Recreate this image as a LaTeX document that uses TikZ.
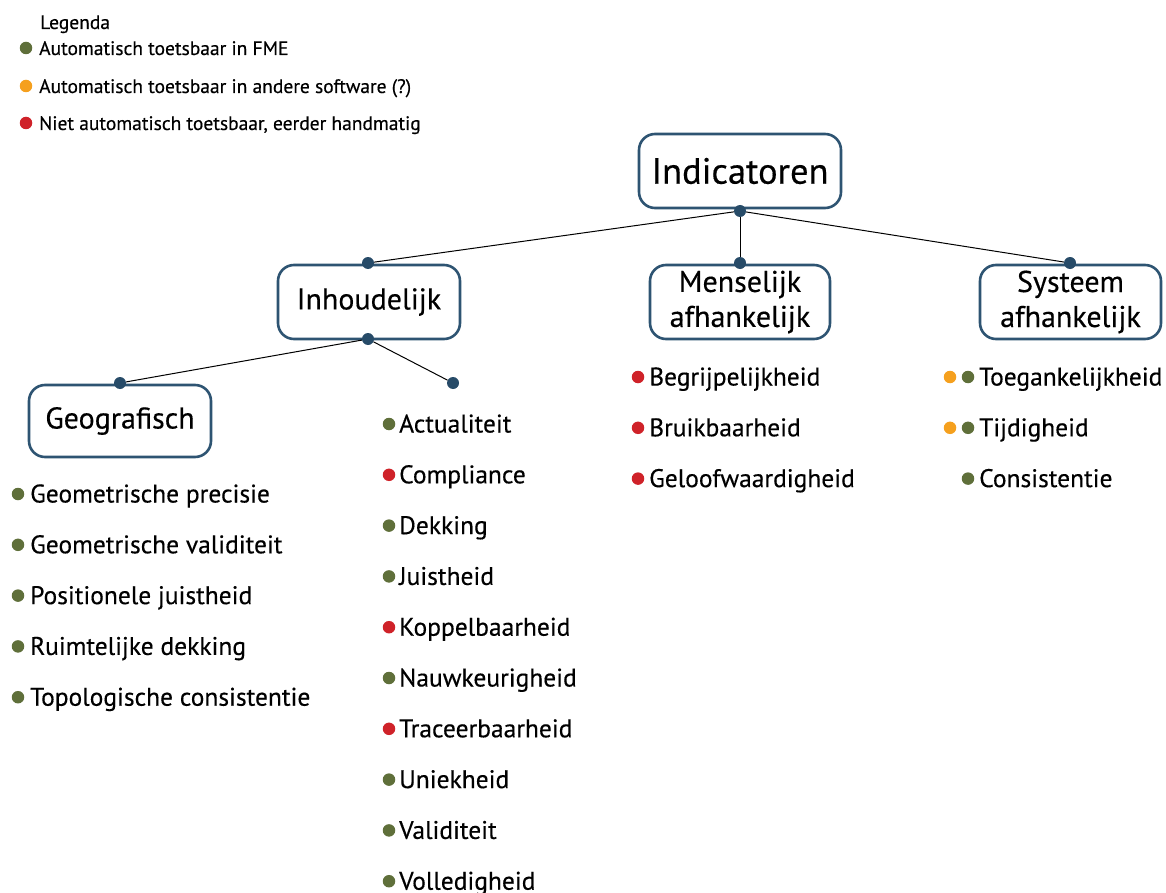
\documentclass[tikz,border=0pt]{standalone}
\usepackage{fontspec}
\setmainfont{PT Sans}[FakeBold=0.35]
\definecolor{boxblue}{HTML}{2E5472}
\definecolor{dotblue}{HTML}{274B68}
\definecolor{okgreen}{HTML}{5F6F3A}
\definecolor{midorange}{HTML}{F5A01E}
\definecolor{badred}{HTML}{CF2229}
\begin{document}
\begin{tikzpicture}[x=1pt,y=-1pt,
  catbox/.style={draw=boxblue, line width=2.6pt, rounded corners=16pt, fill=white,
    minimum height=74pt, align=center, inner sep=0pt,
    font=\fontsize{30}{35}\selectfont},
  joint/.style={circle, fill=dotblue, inner sep=0pt, minimum size=12pt},
  link/.style={line width=1pt, black},
  itemtext/.style={anchor=base west, inner sep=0pt, font=\fontsize{25.5}{28}\selectfont},
  legtext/.style={anchor=base west, inner sep=0pt, font=\fontsize{19.5}{22}\selectfont},
  bullet/.style={circle, inner sep=0pt, minimum size=12.5pt, fill=#1},
]
\useasboundingbox (0,0) rectangle (1166,893);

% legend
\node[legtext] (legtitle) at (40,29) {Legenda};
\node[bullet=okgreen] (lg1) at (26,48) {};
\node[legtext] (lt1) at (39,55) {Automatisch toetsbaar in FME};
\node[bullet=midorange] (lg2) at (26,86) {};
\node[legtext] (lt2) at (39,93) {Automatisch toetsbaar in andere software (?)};
\node[bullet=badred] (lg3) at (26,123) {};
\node[legtext] (lt3) at (39,130) {Niet automatisch toetsbaar, eerder handmatig};

% category boxes
\node[catbox, minimum width=202pt, font=\fontsize{36.5}{40}\selectfont] (ind) at (740,171) {Indicatoren};
\node[catbox, minimum width=182pt] (inh) at (369,302) {Inhoudelijk};
\node[catbox, minimum width=180pt] (mens) at (740,302) {Menselijk\\afhankelijk};
\node[catbox, minimum width=181pt] (sys) at (1070.5,302) {Systeem\\afhankelijk};
\node[catbox, minimum width=182pt, minimum height=72pt] (geo) at (120,421) {Geografisch};

% junction dots
\node[joint] (jind) at (740,211) {};
\node[joint] (jinht) at (368,263) {};
\node[joint] (jinhb) at (368,339) {};
\node[joint] (jmens) at (740,263) {};
\node[joint] (jsys) at (1070,263) {};
\node[joint] (jgeo) at (120,383) {};
\node[joint] (jrest) at (453,383) {};

% connectors
\draw[link] (jind) -- (jinht);
\draw[link] (jind) -- (jmens);
\draw[link] (jind) -- (jsys);
\draw[link] (jinhb) -- (jgeo);
\draw[link] (jinhb) -- (jrest);

% Geografisch indicators
\foreach \t [count=\i from 0] in {Geometrische precisie, Geometrische validiteit,
    Positionele juistheid, Ruimtelijke dekking, Topologische consistentie} {
  \node[bullet=okgreen] (gb\i) at (18,494+50.8*\i) {};
  \node[itemtext] (gt\i) at (30,502.5+50.8*\i) {\t};
}

% Inhoudelijk indicators
\foreach \c/\t [count=\i from 0] in {okgreen/Actualiteit, badred/Compliance, okgreen/Dekking,
    okgreen/Juistheid, badred/Koppelbaarheid, okgreen/Nauwkeurigheid, badred/Traceerbaarheid,
    okgreen/Uniekheid, okgreen/Validiteit, okgreen/Volledigheid} {
  \node[bullet=\c] (ib\i) at (389,424+50.8*\i) {};
  \node[itemtext] (it\i) at (399,432.5+50.8*\i) {\t};
}

% Menselijk afhankelijk indicators
\foreach \t [count=\i from 0] in {Begrijpelijkheid, Bruikbaarheid, Geloofwaardigheid} {
  \node[bullet=badred] (mb\i) at (638,377+50.8*\i) {};
  \node[itemtext] (mt\i) at (649,385.5+50.8*\i) {\t};
}

% Systeem afhankelijk indicators
\node[bullet=midorange] (so0) at (950,377) {};
\node[bullet=okgreen] (sg0) at (968,377) {};
\node[itemtext] (st0) at (979,385.5) {Toegankelijkheid};
\node[bullet=midorange] (so1) at (950,427.8) {};
\node[bullet=okgreen] (sg1) at (968,427.8) {};
\node[itemtext] (st1) at (979,436.3) {Tijdigheid};
\node[bullet=okgreen] (sg2) at (968,478.6) {};
\node[itemtext] (st2) at (979,487.1) {Consistentie};
\end{tikzpicture}
\end{document}
